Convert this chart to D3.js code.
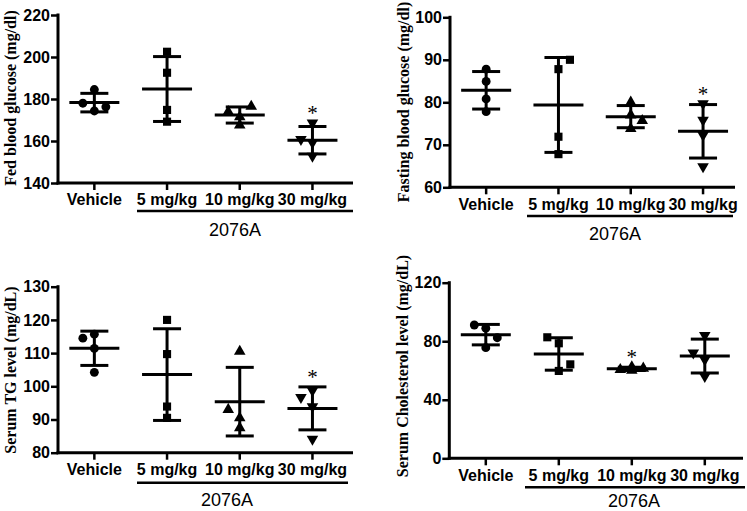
<!DOCTYPE html>
<html><head><meta charset="utf-8">
<script src="https://cdn.jsdelivr.net/npm/d3@7"></script>
<style>
html,body{margin:0;padding:0;background:#fff;}
svg{display:block;}
</style></head>
<body>
<svg id="chart" width="747" height="511"></svg>
<script>
// ---------- data ----------
const categories = ["Vehicle", "5 mg/kg", "10 mg/kg", "30 mg/kg"];
const groupLabel = "2076A";

// Panel A: fed blood glucose
const fedTitle = "Fed blood glucose (mg/dl)";
const fedTicks = [140, 160, 180, 200, 220];
const fedVehicle = [184.5, 178.0, 176.3, 174.3];
const fed5 = [202.5, 192.5, 174.8, 169.2];
const fed10 = [176.5, 174.0, 171.5, 167.5];
const fed30 = [168.7, 160.8, 159.2, 152.8];
const fedDodge = [[0, -1, 1, 0], [0, 0, 0, 0], [1, -1, 0, 0], [0, -1, 0, 0]];
const fedStar = [false, false, false, true];

// Panel B: fasting blood glucose
const fastTitle = "Fasting blood glucose (mg/dl)";
const fastTicks = [60, 70, 80, 90, 100];
const fastVehicle = [87.8, 84.9, 80.8, 77.8];
const fast5 = [90.0, 87.8, 71.9, 67.8];
const fast10 = [80.0, 77.0, 75.7, 73.8];
const fast30 = [79.7, 75.8, 72.3, 64.9];
const fastDodge = [[0, 0, 0, 0], [1, 0, 0, 0], [0, 0, 1, 0], [0, 0, 0, 0]];
const fastStar = [false, false, false, true];

// Panel C: serum TG
const tgTitle = "Serum TG level (mg/dL)";
const tgTicks = [80, 90, 100, 110, 120, 130];
const tgVehicle = [115.7, 114.5, 111.4, 104.2];
const tg5 = [120.0, 109.7, 93.9, 90.5];
const tg10 = [110.5, 93.0, 90.5, 87.5];
const tg30 = [98.7, 96.7, 93.9, 84.1];
const tgDodge = [[0, -1, 0, 0], [0, 0, 0, 0], [0, -1, 0, 0], [0, -1, 0, 0]];
const tgStar = [false, false, false, true];

// Panel D: serum cholesterol
const cholTitle = "Serum Cholesterol level (mg/dL)";
const cholTicks = [0, 40, 80, 120];
const cholVehicle = [91.1, 88.9, 82.4, 75.6];
const chol5 = [82.7, 78.6, 64.2, 59.7];
const chol10 = [62.5, 60.5, 61.5, 60.0];
const chol30 = [84.0, 72.0, 67.5, 56.0];
const cholDodge = [[-1, 0, 1, 0], [-1, 0, 1, 0], [0, -1, 1, 0], [0, -1, 0, 0]];
const cholStar = [false, false, true, false];

// ---------- layout ----------
const panels = [
  {title: fedTitle, ticks: fedTicks, groups: [fedVehicle, fed5, fed10, fed30], dodge: fedDodge, star: fedStar,
   x0: 58, step: 72.7, xEnd: 353, yTop: 15, yBot: 183, titleX: 10, titleY: 98, ulX1: 137, ulX2: 353, ulY: 211, glX: 235, glY: 236},
  {title: fastTitle, ticks: fastTicks, groups: [fastVehicle, fast5, fast10, fast30], dodge: fastDodge, star: fastStar,
   x0: 450, step: 72.3, xEnd: 735, yTop: 17.3, yBot: 187.3, titleX: 403, titleY: 102, ulX1: 527, ulX2: 733, ulY: 216, glX: 615, glY: 240},
  {title: tgTitle, ticks: tgTicks, groups: [tgVehicle, tg5, tg10, tg30], dodge: tgDodge, star: tgStar,
   x0: 58, step: 72.7, xEnd: 353, yTop: 286.7, yBot: 452.7, titleX: 10, titleY: 370, ulX1: 137, ulX2: 348, ulY: 482.7, glX: 227, glY: 506},
  {title: cholTitle, ticks: cholTicks, groups: [cholVehicle, chol5, chol10, chol30], dodge: cholDodge, star: cholStar,
   x0: 449.3, step: 73, xEnd: 743, yTop: 282.7, yBot: 458.3, titleX: 402, titleY: 366, ulX1: 525, ulX2: 745, ulY: 487.3, glX: 634, glY: 507}
];

const shapes = [d3.symbolCircle, d3.symbolSquare, d3.symbolTriangle, d3.symbolTriangle];
const shapeSizes = [62, 66, 58, 58];
const dodgePx = 11.5;
const meanHalf = 25, capHalf = 14;
const lw = 3;
const sans = "'Liberation Sans', Arial, sans-serif";
const serif = "'Liberation Serif', 'Times New Roman', serif";

const svg = d3.select("#chart");

panels.forEach(p => {
  const g = svg.append("g");
  const x = d3.scaleBand().domain(categories).range([p.x0, p.x0 + 4 * p.step]).padding(0);
  const y = d3.scaleLinear().domain([p.ticks[0], p.ticks[p.ticks.length - 1]]).range([p.yBot, p.yTop]);

  // y axis
  const ya = g.append("g").attr("transform", `translate(${p.x0},0)`)
    .call(d3.axisLeft(y).tickValues(p.ticks).tickSize(7).tickSizeOuter(0).tickPadding(1).tickFormat(d3.format("d")));
  ya.select(".domain").attr("stroke-width", lw).attr("d", `M0,${p.yTop - 1.5}V${p.yBot + 1.5}`);
  ya.selectAll(".tick line").attr("stroke-width", 2.5);
  ya.selectAll(".tick text").attr("font-family", sans)
    .attr("font-weight", "bold").attr("font-size", 16).attr("fill", "#000");

  // x axis
  const xa = g.append("g").attr("transform", `translate(0,${p.yBot})`)
    .call(d3.axisBottom(x).tickSize(7).tickSizeOuter(0).tickPadding(4));
  xa.select(".domain").attr("stroke-width", lw).attr("d", `M${p.x0 - 1.5},0H${p.xEnd}`);
  xa.selectAll(".tick line").attr("stroke-width", 2.5);
  xa.selectAll(".tick text").attr("font-family", sans)
    .attr("font-weight", "bold").attr("font-size", 16).attr("fill", "#000");

  // group underline and label
  g.append("line").attr("x1", p.ulX1).attr("x2", p.ulX2).attr("y1", p.ulY).attr("y2", p.ulY)
    .attr("stroke", "#000").attr("stroke-width", 2.5);
  g.append("text").attr("x", p.glX).attr("y", p.glY).attr("text-anchor", "middle")
    .attr("font-family", sans).attr("font-size", 18).attr("fill", "#000")
    .text(groupLabel);

  // y title
  g.append("text").attr("transform", `translate(${p.titleX},${p.titleY}) rotate(-90)`)
    .attr("text-anchor", "middle").attr("dominant-baseline", "central")
    .attr("font-family", serif).attr("font-weight", "bold")
    .attr("font-size", 16).attr("fill", "#000").text(p.title);

  // groups
  p.groups.forEach((vals, i) => {
    const cx = x(categories[i]) + x.bandwidth() / 2;
    const m = d3.mean(vals), sd = d3.deviation(vals);
    vals.forEach((v, j) => {
      const sym = d3.symbol().type(shapes[i]).size(shapeSizes[i]);
      g.append("path").attr("d", sym())
        .attr("transform", `translate(${cx + p.dodge[i][j] * dodgePx},${y(v)})` + (i === 3 ? " rotate(180)" : ""))
        .attr("fill", "#000");
    });
    g.append("line").attr("x1", cx).attr("x2", cx).attr("y1", y(m + sd)).attr("y2", y(m - sd))
      .attr("stroke", "#000").attr("stroke-width", lw);
    [m + sd, m - sd].forEach(v => {
      g.append("line").attr("x1", cx - capHalf).attr("x2", cx + capHalf).attr("y1", y(v)).attr("y2", y(v))
        .attr("stroke", "#000").attr("stroke-width", lw);
    });
    g.append("line").attr("x1", cx - meanHalf).attr("x2", cx + meanHalf).attr("y1", y(m)).attr("y2", y(m))
      .attr("stroke", "#000").attr("stroke-width", lw);
    if (p.star[i]) {
      const top = Math.min(y(m + sd), y(d3.max(vals)));
      g.append("text").attr("x", cx).attr("y", top - 3).attr("text-anchor", "middle")
        .attr("font-family", serif).attr("font-size", 21)
        .attr("fill", "#000").text("*");
    }
  });
});
</script>
</body></html>
